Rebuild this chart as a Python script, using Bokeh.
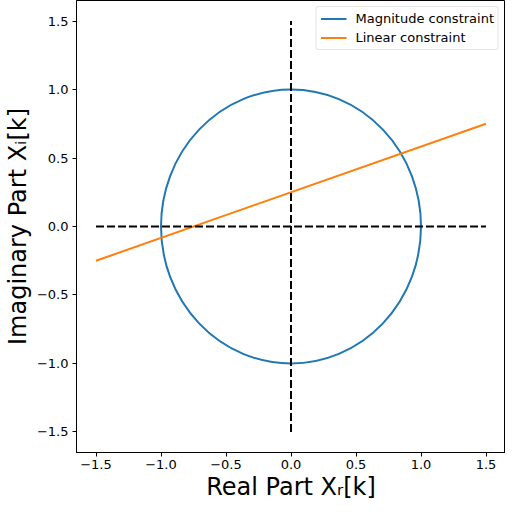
from bokeh.plotting import figure
from bokeh.models import FixedTicker, Range1d, Legend, LegendItem
from bokeh.embed import file_html
from bokeh.resources import INLINE

# Data
circle_center = (0.0, 0.0)
circle_radius = 1.0
lin_x = [-1.5, 1.5]
lin_y = [-0.25, 0.75]
hdash_x = [-1.5, 1.5]
hdash_y = [0.0, 0.0]
vdash_x = [0.0, 0.0]
vdash_y = [-1.5, 1.5]
ticks = [-1.5, -1.0, -0.5, 0.0, 0.5, 1.0, 1.5]
tick_labels = ["\u22121.5", "\u22121.0", "\u22120.5", "0.0", "0.5", "1.0", "1.5"]

p = figure(width=505, height=503, output_backend="svg", toolbar_location=None,
           x_range=Range1d(-1.65, 1.65), y_range=Range1d(-1.65, 1.65),
           min_border_left=66, min_border_right=0, min_border_top=0, min_border_bottom=40)
p.grid.visible = False
p.outline_line_color = "black"
p.outline_line_alpha = 1.0
p.outline_line_width = 1

blue = "#1f77b4"
orange = "#ff7f0e"

p.ellipse(x=circle_center[0], y=circle_center[1], width=2 * circle_radius, height=2 * circle_radius,
          fill_color=None, line_color=blue, line_width=2)
# zero-length proxy line for the legend entry of the circle
mag_leg = p.line(x=[circle_center[0], circle_center[0]], y=[circle_center[1], circle_center[1]],
                 line_color=blue, line_width=2)
lin = p.line(lin_x, lin_y, line_color=orange, line_width=2)
p.line(hdash_x, hdash_y, line_color="black", line_width=2, line_dash="8 3")
p.line(vdash_x, vdash_y, line_color="black", line_width=2, line_dash="8 3")

legend = Legend(items=[LegendItem(label="Magnitude constraint", renderers=[mag_leg]),
                       LegendItem(label="Linear constraint", renderers=[lin])],
                location="top_right")
legend.label_text_font = "DejaVu Sans"
legend.label_text_font_size = "13px"
legend.label_text_color = "#000000"
legend.glyph_width = 26
legend.glyph_height = 15
legend.label_height = 15
legend.label_standoff = 9
legend.spacing = 4
legend.padding = 4
legend.margin = 6
legend.border_line_color = "#cccccc"
legend.border_line_width = 1
legend.border_radius = 3
legend.background_fill_alpha = 0.8
p.add_layout(legend)

overrides = {t: l for t, l in zip(ticks, tick_labels)}
for ax in (p.xaxis[0], p.yaxis[0]):
    ax.ticker = FixedTicker(ticks=ticks)
    ax.major_label_overrides = overrides
    ax.major_label_text_font = "DejaVu Sans"
    ax.major_label_text_font_size = "13px"
    ax.major_label_text_color = "#000000"
    ax.major_tick_out = 4
    ax.major_tick_in = 0
    ax.minor_tick_out = 0
    ax.minor_tick_in = 0
    ax.major_tick_line_color = "black"
    ax.axis_line_color = "black"
    ax.axis_label_text_font = "DejaVu Sans"
    ax.axis_label_text_font_size = "24px"
    ax.axis_label_text_font_style = "normal"
    ax.axis_label_text_color = "#000000"

p.xaxis[0].axis_label = "Real Part X\u1d63[k]"
p.yaxis[0].axis_label = "Imaginary Part X\u1d62[k]"
p.xaxis[0].axis_label_standoff = 1
p.yaxis[0].axis_label_standoff = 2
p.xaxis[0].major_label_standoff = 3
p.yaxis[0].major_label_standoff = 4

open("out.html", "w").write(file_html(p, INLINE))
